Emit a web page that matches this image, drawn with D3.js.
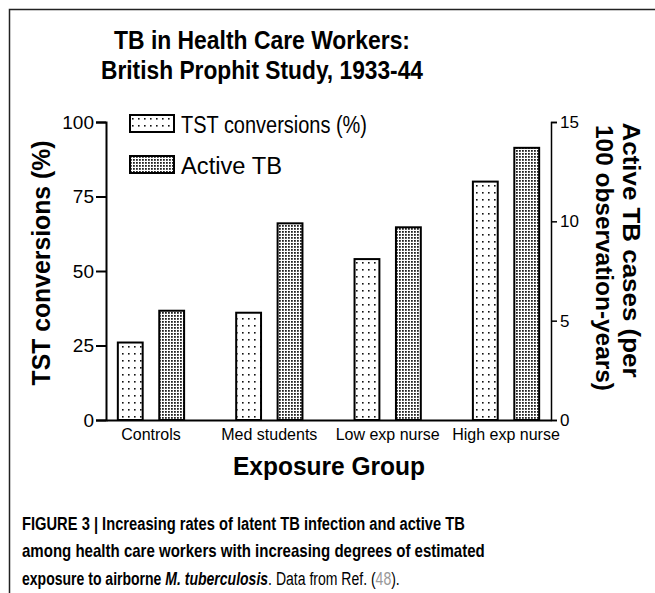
<!DOCTYPE html>
<html>
<head>
<meta charset="utf-8">
<script src="https://cdn.jsdelivr.net/npm/d3@7"></script>
<style>
  body { margin: 0; background: #fff; }
  svg { display: block; }
  text { font-family: Arial, "Liberation Sans", sans-serif; fill: #000; }
</style>
</head>
<body>
<div id="chart"></div>
<script>
const groups = ["Controls", "Med students", "Low exp nurse", "High exp nurse"]
const tstConversions = [26, 36, 54, 80]     // %
const activeTB = [5.5, 9.9, 9.7, 13.7]      // per 100 observation-years
const leftTicks = [0, 25, 50, 75, 100]
const rightTicks = [0, 5, 10, 15]
const seriesNames = ["TST conversions (%)", "Active TB"]
const titleLines = ["TB in Health Care Workers:", "British Prophit Study, 1933-44"]
const rightTitle = ["Active TB cases (per", "100 observation-years)"]

const W = 655, H = 593
const plot = {left: 106, right: 551, top: 122, bottom: 420}

const svg = d3.select("#chart").append("svg").attr("width", W).attr("height", H)

// squeeze a text to a given length (the source fonts are narrower than Arial)
function fit(sel, len) {
    sel.attr("textLength", len).attr("lengthAdjust", "spacingAndGlyphs")
}

// patterns for the two series
const defs = svg.append("defs")
const sparse = defs.append("pattern").attr("id", "sparse")
    .attr("patternUnits", "userSpaceOnUse").attr("width", 6).attr("height", 7)
sparse.append("rect").attr("width", 6).attr("height", 7).attr("fill", "#fff")
sparse.append("rect").attr("x", 2).attr("y", 3).attr("width", 1.6).attr("height", 1.6).attr("fill", "#111")

const dense = defs.append("pattern").attr("id", "dense")
    .attr("patternUnits", "userSpaceOnUse").attr("width", 3).attr("height", 3)
dense.append("rect").attr("width", 3).attr("height", 3).attr("fill", "#fff")
dense.append("rect").attr("width", 1.8).attr("height", 1.8).attr("fill", "#222")

// frame
svg.append("path").attr("d", `M9.5,${H} V9.5 H${W}`)
    .attr("fill", "none").attr("stroke", "#222").attr("stroke-width", 1.5)

// scales
const x = d3.scaleBand().domain(groups).range([plot.left, plot.right])
    .paddingInner(0.44).paddingOuter(0.1)
const xs = d3.scaleBand().domain([0, 1]).range([0, x.bandwidth()]).paddingInner(0.4)
const yL = d3.scaleLinear().domain([0, 100]).range([plot.bottom, plot.top])
const yR = d3.scaleLinear().domain([0, 15]).range([plot.bottom, plot.top])

// bars
const barG = svg.append("g")
barG.selectAll(".tst").data(tstConversions).enter().append("rect")
    .attr("x", (d, i) => x(groups[i]) + xs(0))
    .attr("y", d => yL(d))
    .attr("width", xs.bandwidth())
    .attr("height", d => yL(0) - yL(d))
    .attr("fill", "url(#sparse)").attr("stroke", "#000").attr("stroke-width", 2)
barG.selectAll(".act").data(activeTB).enter().append("rect")
    .attr("x", (d, i) => x(groups[i]) + xs(1))
    .attr("y", d => yR(d))
    .attr("width", xs.bandwidth())
    .attr("height", d => yR(0) - yR(d))
    .attr("fill", "url(#dense)").attr("stroke", "#000").attr("stroke-width", 2)

// axes
const axL = svg.append("g").attr("transform", `translate(${plot.left},0)`)
    .call(d3.axisLeft(yL).tickValues(leftTicks).tickSize(10).tickPadding(2))
axL.selectAll("text").style("font-size", "19px")
axL.selectAll("path, line").attr("stroke", "#000").attr("stroke-width", 2)

const axR = svg.append("g").attr("transform", `translate(${plot.right},0)`)
    .call(d3.axisRight(yR).tickValues(rightTicks).tickSize(6).tickPadding(3))
axR.selectAll("text").style("font-size", "17px")
axR.selectAll("path, line").attr("stroke", "#000").attr("stroke-width", 1.5)

const axB = svg.append("g").attr("transform", `translate(0,${plot.bottom})`)
    .call(d3.axisBottom(x).tickSize(0).tickPadding(9).tickSizeOuter(0))
axB.selectAll("text").style("font-size", "16px")
axB.select(".domain").attr("stroke", "#000").attr("stroke-width", 2)
svg.selectAll(".domain").attr("fill", "none")

// titles
svg.append("g").selectAll("text").data(titleLines).enter().append("text")
    .attr("x", 262).attr("y", (d, i) => 49 + i * 30)
    .attr("text-anchor", "middle").style("font-size", "26px").style("font-weight", "bold")
    .text(d => d)
    .each(function (d, i) { fit(d3.select(this), i === 0 ? 296 : 322) })

fit(svg.append("text").attr("transform", "translate(50,263) rotate(-90)")
    .attr("text-anchor", "middle").style("font-size", "25px").style("font-weight", "bold")
    .text("TST conversions (%)"), 245)

svg.append("g").selectAll("text").data(rightTitle).enter()
    .append("text")
    .attr("transform", (d, i) => `translate(${i === 0 ? 623 : 596},${i === 0 ? 250 : 258}) rotate(90)`)
    .attr("text-anchor", "middle").style("font-size", "23px").style("font-weight", "bold")
    .text(d => d)
    .each(function (d, i) { fit(d3.select(this), i === 0 ? 255 : 266) })

svg.append("text").attr("x", 329).attr("y", 475)
    .attr("text-anchor", "middle").style("font-size", "25px").style("font-weight", "bold")
    .text("Exposure Group")
    .call(fit, 192)

// legend
const leg = svg.append("g").selectAll("g").data(seriesNames).enter().append("g")
    .attr("transform", (d, i) => `translate(130,${115 + i * 41})`)
leg.append("rect").attr("width", 44).attr("height", 17)
    .attr("fill", (d, i) => i === 0 ? "url(#sparse)" : "url(#dense)")
    .attr("stroke", "#000").attr("stroke-width", 2)
leg.append("text").attr("x", 51).attr("y", 18).style("font-size", "23px").text(d => d)
    .each(function (d, i) { fit(d3.select(this), i === 0 ? 186 : 101) })

// caption, drawn with Arial then narrowed line by line to the journal's condensed face
const capLines = [
    [{t: "FIGURE 3 | Increasing rates of latent TB infection and active TB", b: true}],
    [{t: "among health care workers with increasing degrees of estimated", b: true}],
    [{t: "exposure to airborne ", b: true}, {t: "M. tuberculosis", b: true, i: true},
     {t: ". Data from Ref. ("}, {t: "48", c: "#999"}, {t: ")."}]
]
const capWidths = [443, 463, 378]
capLines.forEach((line, li) => {
    const g = svg.append("g")
    const t = g.append("text").attr("x", 0).attr("y", 530 + li * 27.5).style("font-size", "19px")
    t.selectAll("tspan").data(line).enter().append("tspan")
        .style("font-weight", d => d.b ? "bold" : "normal")
        .style("font-style", d => d.i ? "italic" : "normal")
        .style("fill", d => d.c || "#000")
        .text(d => d.t)
    const k = capWidths[li] / t.node().getComputedTextLength()
    g.attr("transform", `translate(22,0) scale(${k},1)`)
})
</script>
</body>
</html>
